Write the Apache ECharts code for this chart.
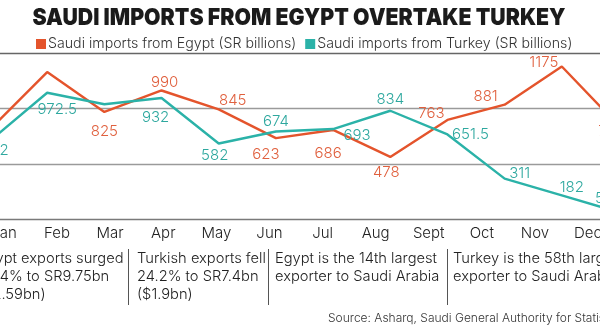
<!DOCTYPE html>
<html>
<head>
<meta charset="utf-8">
<script src="https://cdn.jsdelivr.net/npm/echarts@6/dist/echarts.min.js"></script>
<style>
html,body{margin:0;padding:0;background:#fff;overflow:hidden;}
#wrap{position:relative;width:600px;height:329px;overflow:hidden;}
#c{position:absolute;left:-20px;top:0;width:640px;height:329px;}
</style>
</head>
<body>
<div id="wrap"><div id="c"></div></div>
<script>
// ---- data ----
const months = ['Jan','Feb','Mar','Apr','May','Jun','Jul','Aug','Sept','Oct','Nov','Dec'];
const egypt  = [690, 1132, 825, 990, 845, 623, 686, 478, 763, 881, 1175, 716];
const turkey = [602, 972.5, 884, 932, 582, 674, 693, 834, 651.5, 311, 182, 52];
const egyptLabelShown  = [false,false,true,true,true,true,true,true,true,true,true,true];
const turkeyLabelShown = [true,true,false,true,true,true,true,true,true,true,true,true];
const yTicks = [0, 425, 850, 1275];
const legendNames = ['Saudi imports from Egypt (SR billions)','Saudi imports from Turkey (SR billions)'];

// ---- label placement (style, not data) ----
const egyptOffsets  = [[0,0],[0,0],[0,20],[3,-8],[14,-9],[-10,16],[-5,24],[-4,16],[-16,-6],[-19,-8],[-18,-4],[-9,5]];
const turkeyOffsets = [[5,10],[10,17],[0,0],[-6,19],[-4,12],[0,-10],[24,6],[0,-11],[23,0],[15,-5],[10,-8],[-15,-14]];

const OX = 20; // chart canvas is shifted left by OX px
const W = 640;
const ORANGE = '#e4542c', TEAL = '#2bb2a8';
const FONT = 'Inter';

function mk(vals, shown, offs){
  return vals.map((v,i)=>({
    value: v,
    label: {show: shown[i], position:'inside', offset: offs[i]}
  }));
}

const chart = echarts.init(document.getElementById('c'), null, {renderer:'canvas'});
chart.setOption({
  animation:false,
  backgroundColor:'#fff',
  legend:{
    left:31+OX, top:32, width:580, orient:'horizontal',
    itemWidth:10, itemHeight:10, itemGap:9,
    icon:'rect',
    textStyle:{fontFamily:FONT, fontWeight:300, fontSize:14.2, color:'#333', padding:[0,0,0,-3]},
    data: legendNames
  },
  grid:[
    {left:-10+OX, right:W-(619+OX), top:53.5, bottom:110},
    {left:4+OX, right:W-(588+OX), top:53.5, bottom:110}
  ],
  xAxis:[
    {type:'category', gridIndex:0, boundaryGap:false, data:months,
     axisLine:{show:false}, axisTick:{show:false}, axisLabel:{show:false}, splitLine:{show:false}},
    {type:'category', gridIndex:1, boundaryGap:false, data:months,
     axisLine:{show:false}, axisTick:{show:false}, splitLine:{show:false},
     axisLabel:{show:true, margin:7, fontFamily:FONT, fontWeight:300, fontSize:15, color:'#222', interval:0}}
  ],
  yAxis:[
    {type:'value', gridIndex:0, min:yTicks[0], max:yTicks[yTicks.length-1], interval:yTicks[1]-yTicks[0],
     axisLabel:{show:false}, axisLine:{show:false}, axisTick:{show:false},
     splitLine:{show:true, lineStyle:{color:['#7a7a7a','#9a9a9a','#9a9a9a','#666'], width:1.3}}},
    {type:'value', gridIndex:1, min:0, max:1275, show:false}
  ],
  series:[
    {name:legendNames[0], type:'line', xAxisIndex:0, yAxisIndex:0,
     data: mk(egypt, egyptLabelShown, egyptOffsets),
     symbol:'circle', symbolSize:0, showSymbol:true,
     lineStyle:{color:ORANGE, width:2.4}, itemStyle:{color:ORANGE},
     label:{fontFamily:FONT, fontWeight:300, fontSize:15, color:'#e0603e'}},
    {name:legendNames[1], type:'line', xAxisIndex:0, yAxisIndex:0,
     data: mk(turkey, turkeyLabelShown, turkeyOffsets),
     symbol:'circle', symbolSize:0, showSymbol:true,
     lineStyle:{color:TEAL, width:2.4}, itemStyle:{color:TEAL},
     label:{fontFamily:FONT, fontWeight:300, fontSize:15, color:'#2ea89f'}}
  ],
  graphic:[
    {type:'text', x:299+OX, y:18, scaleX:0.905, originX:0, originY:0,
     style:{text:'SAUDI IMPORTS FROM EGYPT OVERTAKE TURKEY', font:'900 23.5px Inter', fill:'#1b1b1b', align:'center', verticalAlign:'middle'}},
    {type:'text', x:-22+OX, y:250, style:{text:'Egypt exports surged\n24.4% to SR9.75bn\n($2.59bn)', font:'300 14.7px Inter', fill:'#222', lineHeight:18}},
    {type:'text', x:137+OX, y:250, style:{text:'Turkish exports fell\n24.2% to SR7.4bn\n($1.9bn)', font:'300 14.7px Inter', fill:'#222', lineHeight:18}},
    {type:'text', x:275+OX, y:250, style:{text:'Egypt is the 14th largest\nexporter to Saudi Arabia', font:'300 14.7px Inter', fill:'#222', lineHeight:18}},
    {type:'text', x:453+OX, y:250, style:{text:'Turkey is the 58th largest\nexporter to Saudi Arabia', font:'300 14.7px Inter', fill:'#222', lineHeight:18}},
    {type:'line', shape:{x1:128.5+OX,y1:249,x2:128.5+OX,y2:305}, style:{stroke:'#555', lineWidth:1}},
    {type:'line', shape:{x1:268.5+OX,y1:249,x2:268.5+OX,y2:305}, style:{stroke:'#555', lineWidth:1}},
    {type:'line', shape:{x1:447.5+OX,y1:249,x2:447.5+OX,y2:305}, style:{stroke:'#555', lineWidth:1}},
    {type:'text', x:328+OX, y:312, style:{text:'Source: Asharq, Saudi General Authority for Statistics', font:'300 12px Inter', fill:'#333'}}
  ]
});
</script>
</body>
</html>
